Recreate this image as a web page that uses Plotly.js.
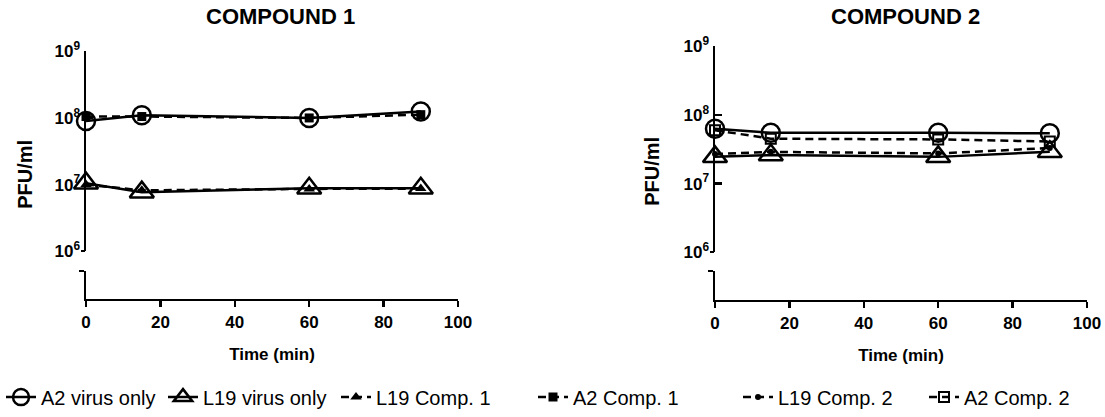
<!DOCTYPE html>
<html>
<head>
<meta charset="utf-8">
<script src="https://cdn.plot.ly/plotly-3.0.1.min.js"></script>
<style>html,body{margin:0;padding:0;background:#fff;}#chart{width:1105px;height:417px;}</style>
</head>
<body>
<div id="chart"></div>
<script>
// ---- data ----
const time = [0, 15, 60, 90];
// Compound 1 panel
const c1_A2_virus  = [9.0e7, 1.1e8, 1.0e8, 1.25e8];
const c1_A2_comp1  = [1.05e8, 1.05e8, 1.0e8, 1.12e8];
const c1_L19_virus = [1.05e7, 7.7e6, 8.8e6, 8.8e6];
const c1_L19_comp1 = [1.0e7, 8.2e6, 8.6e6, 8.7e6];
// Compound 2 panel
const c2_A2_virus  = [6.3e7, 5.5e7, 5.5e7, 5.4e7];
const c2_A2_comp2  = [6.0e7, 4.5e7, 4.4e7, 4.1e7];
const c2_L19_virus = [2.45e7, 2.6e7, 2.45e7, 2.9e7];
const c2_L19_comp2 = [2.7e7, 2.9e7, 2.75e7, 3.3e7];

const yTickVals = [1e6, 1e7, 1e8, 1e9];
const yTickText = ['10<sup>6</sup>', '10<sup>7</sup>', '10<sup>8</sup>', '10<sup>9</sup>'];
const xTickVals = [0, 20, 40, 60, 80, 100];
const panelTitles = ['COMPOUND 1', 'COMPOUND 2'];
const names = ['A2 virus only', 'L19 virus only', 'L19 Comp. 1', 'A2 Comp. 1', 'L19 Comp. 2', 'A2 Comp. 2'];

// ---- layout helpers ----
const W = 1105, H = 417;
const px = v => v / W;
const py = v => 1 - v / H;
const FONT = 'Liberation Sans, Arial, sans-serif';
const BLACK = '#000';
const LW = 2.5;
const DASH = '8px,5px';

function tr(x, y, xa, ya, name, symbol, size, dash, legend, showlegend, mline) {
  return {
    x: x, y: y, xaxis: xa, yaxis: ya, name: name, type: 'scatter', mode: 'lines+markers',
    line: {color: BLACK, width: LW, dash: dash},
    marker: {symbol: symbol, size: size, color: BLACK, line: {color: BLACK, width: mline}},
    cliponaxis: false, legend: legend, showlegend: showlegend
  };
}

const traces = [
  // left panel
  tr(time, c1_A2_comp1, 'x', 'y', names[3], 'square', 9, DASH, 'legend4', true, 0),
  tr(time, c1_L19_comp1, 'x', 'y', names[2], 'triangle-up', 10, DASH, 'legend3', true, 0),
  tr(time, c1_A2_virus, 'x', 'y', names[0], 'circle-open', 18, 'solid', 'legend', true, 2.5),
  tr(time, c1_L19_virus, 'x', 'y', names[1], 'triangle-up-open', 21, 'solid', 'legend2', true, 2.5),
  // right panel
  tr(time, c2_A2_comp2, 'x2', 'y2', names[5], 'square-open', 10, DASH, 'legend6', true, 2),
  tr(time, c2_L19_comp2, 'x2', 'y2', names[4], 'circle', 6, DASH, 'legend5', true, 0),
  tr(time, c2_A2_virus, 'x2', 'y2', names[0], 'circle-open', 18, 'solid', 'legend', false, 2.5),
  tr(time, c2_L19_virus, 'x2', 'y2', names[1], 'triangle-up-open', 21, 'solid', 'legend2', false, 2.5),
  // empty traces so the stub / overlay axes exist
  {x: [], y: [], xaxis: 'x', yaxis: 'y3', type: 'scatter', showlegend: false},
  {x: [], y: [], xaxis: 'x', yaxis: 'y5', type: 'scatter', showlegend: false},
  {x: [], y: [], xaxis: 'x2', yaxis: 'y4', type: 'scatter', showlegend: false},
  {x: [], y: [], xaxis: 'x2', yaxis: 'y6', type: 'scatter', showlegend: false},
  {x: [], y: [], xaxis: 'x', yaxis: 'y7', type: 'scatter', showlegend: false},
  {x: [], y: [], xaxis: 'x2', yaxis: 'y8', type: 'scatter', showlegend: false}
];

const tickFont = {family: FONT, size: 17, color: BLACK, weight: 'bold'};

function xAxis(d0, d1, anchor) {
  return {
    domain: [px(d0), px(d1)], anchor: anchor, range: [0, 100], tickvals: xTickVals,
    showline: true, linecolor: BLACK, linewidth: LW, ticks: 'outside', ticklen: 6, tickwidth: LW,
    tickcolor: BLACK, showgrid: false, zeroline: false, tickfont: tickFont, fixedrange: true,
    title: {text: 'Time (min)', font: {family: FONT, size: 17, color: BLACK, weight: 'bold'}, standoff: 18}
  };
}
function yLog(top, bottom, anchor) {
  return {
    domain: [py(bottom), py(top)], anchor: anchor, type: 'log', range: [6, 9],
    tickvals: yTickVals, ticktext: yTickText,
    showline: true, linecolor: BLACK, linewidth: LW, ticks: 'inside', ticklen: 7, tickwidth: LW,
    tickcolor: BLACK, showgrid: false, zeroline: false, tickfont: tickFont, fixedrange: true
  };
}
function yLogCap(top, bottom, anchor, base) {
  return {
    domain: [py(bottom), py(top)], anchor: anchor, type: 'log', range: [6, 9], overlaying: base,
    tickvals: [1e6], ticktext: [''], showline: false, ticks: 'outside', ticklen: 4, tickwidth: LW,
    tickcolor: BLACK, showgrid: false, zeroline: false, fixedrange: true
  };
}
function yStub(top, bottom, anchor, inside) {
  return {
    domain: [py(bottom), py(top)], anchor: anchor, range: [0, 1], tickvals: [1], ticktext: [''],
    showline: !inside, linecolor: BLACK, linewidth: LW, ticks: inside ? 'inside' : 'outside',
    ticklen: 5, tickwidth: LW, tickcolor: BLACK, showgrid: false, zeroline: false, fixedrange: true
  };
}

function legendAt(textStart) {
  return {
    x: px(textStart - 44), y: py(400), xanchor: 'left', yanchor: 'middle', orientation: 'h',
    bgcolor: 'rgba(0,0,0,0)', font: {family: FONT, size: 20, color: BLACK}, itemwidth: 30
  };
}

const layout = {
  width: W, height: H, margin: {l: 0, r: 0, t: 0, b: 0},
  paper_bgcolor: '#fff', plot_bgcolor: 'rgba(0,0,0,0)',
  font: {family: FONT, color: BLACK},
  xaxis: xAxis(86, 458, 'y3'),
  xaxis2: xAxis(715, 1087, 'y4'),
  yaxis: yLog(51.7, 253, 'x'),
  yaxis2: yLog(46.7, 254, 'x2'),
  yaxis3: yStub(273, 301, 'x', false),
  yaxis4: yStub(273, 302, 'x2', false),
  yaxis5: Object.assign(yStub(273, 301, 'x', true), {overlaying: 'y3'}),
  yaxis6: Object.assign(yStub(273, 302, 'x2', true), {overlaying: 'y4'}),
  yaxis7: yLogCap(51.7, 253, 'x', 'y'),
  yaxis8: yLogCap(46.7, 254, 'x2', 'y2'),
  legend: legendAt(45),
  legend2: legendAt(207),
  legend3: legendAt(380),
  legend4: legendAt(577),
  legend5: legendAt(782),
  legend6: legendAt(968),
  annotations: [
    {text: panelTitles[0], xref: 'paper', yref: 'paper', x: px(280), y: py(17), xanchor: 'center', yanchor: 'middle', showarrow: false,
     font: {family: FONT, size: 22, color: BLACK, weight: 'bold'}},
    {text: panelTitles[1], xref: 'paper', yref: 'paper', x: px(905), y: py(17), xanchor: 'center', yanchor: 'middle', showarrow: false,
     font: {family: FONT, size: 22, color: BLACK, weight: 'bold'}},
    {text: 'PFU/ml', xref: 'paper', yref: 'paper', x: px(25), y: py(176), xanchor: 'center', yanchor: 'middle', textangle: -90, showarrow: false,
     font: {family: FONT, size: 20, color: BLACK, weight: 'bold'}},
    {text: 'PFU/ml', xref: 'paper', yref: 'paper', x: px(652), y: py(173), xanchor: 'center', yanchor: 'middle', textangle: -90, showarrow: false,
     font: {family: FONT, size: 20, color: BLACK, weight: 'bold'}}
  ],
  showlegend: true
};

Plotly.newPlot('chart', traces, layout, {displayModeBar: false, staticPlot: true});
</script>
</body>
</html>
